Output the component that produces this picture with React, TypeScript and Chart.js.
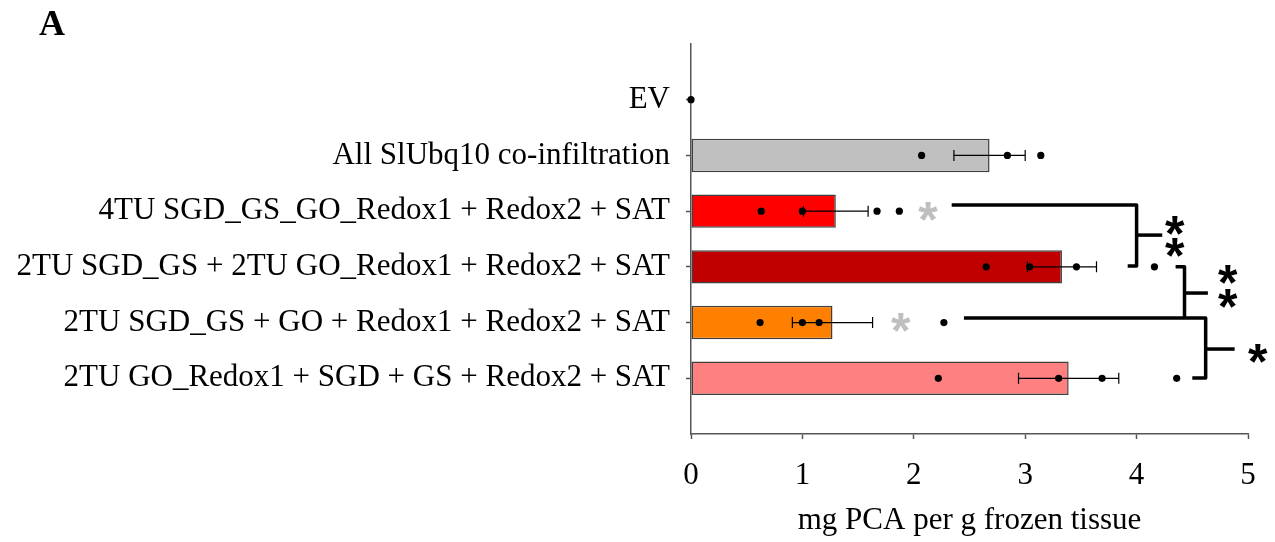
import React, { useEffect, useRef } from "react";
import { Chart, registerables } from "chart.js";

Chart.register(...registerables);

// Constructs, top to bottom
const categories = [
  "EV",
  "All SlUbq10 co-infiltration",
  "4TU SGD_GS_GO_Redox1 + Redox2 + SAT",
  "2TU SGD_GS + 2TU GO_Redox1 + Redox2 + SAT",
  "2TU SGD_GS + GO + Redox1 + Redox2 + SAT",
  "2TU GO_Redox1 + SGD + GS + Redox2 + SAT",
];

// Mean PCA content (mg per g frozen tissue) and its standard error
const means = [0, 2.68, 1.3, 3.33, 1.27, 3.39];
const errors = [0, 0.32, 0.29, 0.31, 0.36, 0.45];

// Individual biological replicates
const replicates = [
  [0],
  [2.07, 2.84, 3.14],
  [0.63, 1.0, 1.67, 1.87],
  [2.65, 3.04, 3.46, 4.16],
  [0.62, 1.0, 1.15, 2.27],
  [2.22, 3.3, 3.69, 4.36],
];

const xTickValues = [0, 1, 2, 3, 4, 5];

const barColors = ["#C0C0C0", "#C0C0C0", "#FF0000", "#C00000", "#FF8000", "#FF8080"];

const axisTitle = "mg PCA per g frozen tissue";
const panelLetter = "A";

// Significance marks, in (value, row) units; row 0 is "EV"
const grayStars = [
  { x: 2.13, row: 2 },
  { x: 1.885, row: 4 },
];
const bracketPaths: number[][][] = [
  [[2.34, 1.89], [4.0, 1.89], [4.0, 2.985], [3.92, 2.985]],
  [[4.0, 2.43], [4.23, 2.43]],
  [[4.35, 3.0], [4.43, 3.0], [4.43, 3.918]],
  [[4.43, 3.47], [4.64, 3.47]],
  [[2.45, 3.918], [4.62, 3.918], [4.62, 4.995], [4.5, 4.995]],
  [[4.62, 4.475], [4.88, 4.475]],
];
const blackStars = [
  { x: 4.345, row: 2.25 },
  { x: 4.345, row: 2.66 },
  { x: 4.82, row: 3.146 },
  { x: 4.82, row: 3.56 },
  { x: 5.09, row: 4.55 },
];

const SERIF = '"Liberation Serif", "Times New Roman", serif';
const AXIS_COLOR = "#555555";
const STAR_FONT = 'bold 50px "Liberation Sans", Arial, sans-serif';
const LABEL_SIZE = 31;

// Category axis carries a blank row above and below the constructs
const axisLabels = ["", ...categories, ""];

function drawStar(ctx: CanvasRenderingContext2D, x: number, y: number, color: string) {
  ctx.save();
  ctx.font = STAR_FONT;
  ctx.textAlign = "left";
  ctx.textBaseline = "alphabetic";
  ctx.fillStyle = color;
  const m = ctx.measureText("*");
  const dx = (m.actualBoundingBoxRight - m.actualBoundingBoxLeft) / 2;
  const dy = (m.actualBoundingBoxAscent - m.actualBoundingBoxDescent) / 2;
  ctx.fillText("*", x - dx, y + dy);
  ctx.restore();
}

const errorBarPlugin = {
  id: "errorBars",
  afterDatasetDraw(chart: any, args: any) {
    if (args.meta.type !== "bar") return;
    const { ctx, scales } = chart;
    const xs = scales.x;
    const ys = scales.y;
    ctx.save();
    ctx.strokeStyle = "#000";
    ctx.lineWidth = 1.2;
    means.forEach((m, i) => {
      const e = errors[i];
      if (!e) return;
      const y = ys.getPixelForValue(i + 1);
      const x0 = xs.getPixelForValue(m - e);
      const x1 = xs.getPixelForValue(m + e);
      ctx.beginPath();
      ctx.moveTo(x0, y);
      ctx.lineTo(x1, y);
      ctx.moveTo(x0, y - 5.5);
      ctx.lineTo(x0, y + 5.5);
      ctx.moveTo(x1, y - 5.5);
      ctx.lineTo(x1, y + 5.5);
      ctx.stroke();
    });
    ctx.restore();
  },
};

const annotationPlugin = {
  id: "significance",
  afterDraw(chart: any) {
    const { ctx, scales } = chart;
    const xs = scales.x;
    const ys = scales.y;
    const px = (v: number) => xs.getPixelForValue(v);
    const py = (r: number) => ys.getPixelForValue(r + 1);

    ctx.save();
    ctx.strokeStyle = "#000";
    ctx.lineWidth = 3.5;
    ctx.lineJoin = "round";
    ctx.lineCap = "butt";
    bracketPaths.forEach((path) => {
      ctx.beginPath();
      path.forEach(([v, r], k) => {
        if (k === 0) ctx.moveTo(px(v), py(r));
        else ctx.lineTo(px(v), py(r));
      });
      ctx.stroke();
    });
    ctx.restore();

    grayStars.forEach((s) => drawStar(ctx, px(s.x), py(s.row), "#BFBFBF"));
    blackStars.forEach((s) => drawStar(ctx, px(s.x), py(s.row), "#000"));

    ctx.save();
    ctx.font = `bold 36px ${SERIF}`;
    ctx.fillStyle = "#000";
    ctx.textAlign = "left";
    ctx.textBaseline = "alphabetic";
    ctx.fillText(panelLetter, 39, 35);
    ctx.restore();
  },
};

export default function App() {
  const canvasRef = useRef<HTMLCanvasElement | null>(null);

  useEffect(() => {
    if (!canvasRef.current) return;
    const dots: { x: number; y: string }[] = [];
    replicates.forEach((vals, i) => vals.forEach((v) => dots.push({ x: v, y: categories[i] })));

    const chart = new Chart(canvasRef.current, {
      type: "bar",
      data: {
        labels: axisLabels,
        datasets: [
          {
            type: "scatter",
            indexAxis: "x",
            data: dots,
            pointRadius: 3.6,
            pointHoverRadius: 3.6,
            pointBackgroundColor: "#000",
            pointBorderWidth: 0,
            showLine: false,
            clip: false,
          } as any,
          {
            type: "bar",
            data: [null, ...means, null],
            backgroundColor: [null, ...barColors, null],
            borderColor: "#404040",
            borderWidth: [0, ...means.map((m) => (m > 0 ? 1.5 : 0)), 0],
            borderSkipped: false,
            barPercentage: 0.6,
            categoryPercentage: 1,
          } as any,
        ],
      },
      options: {
        indexAxis: "y",
        animation: false,
        responsive: true,
        maintainAspectRatio: false,
        layout: { padding: { top: 44, right: 27, bottom: 0, left: 0 } },
        plugins: {
          legend: { display: false },
          tooltip: { enabled: false },
          title: { display: false },
        },
        scales: {
          x: {
            type: "linear",
            position: "bottom",
            min: 0,
            max: 5,
            border: { color: AXIS_COLOR, width: 1.5 },
            grid: { drawOnChartArea: false, tickLength: 5, color: AXIS_COLOR, tickWidth: 1.5 },
            ticks: { color: "#000", font: { family: SERIF, size: LABEL_SIZE }, padding: 18 },
            afterBuildTicks: (s: any) => {
              s.ticks = xTickValues.map((v) => ({ value: v }));
            },
            title: {
              display: true,
              text: axisTitle,
              color: "#000",
              font: { family: SERIF, size: LABEL_SIZE },
              padding: { top: 0, bottom: 3 },
            },
            afterFit: (s: any) => {
              s.height = 108;
            },
          },
          y: {
            type: "category",
            offset: false,
            border: { color: AXIS_COLOR, width: 1.5 },
            grid: {
              offset: false,
              drawOnChartArea: false,
              tickLength: 5,
              tickWidth: 1.5,
              color: (c: any) => (c.index === 0 || c.index === axisLabels.length - 1 ? "rgba(0,0,0,0)" : AXIS_COLOR),
            },
            ticks: { color: "#000", font: { family: SERIF, size: LABEL_SIZE }, padding: 16, autoSkip: false },
            afterFit: (s: any) => {
              s.width = 691;
            },
          },
        },
      } as any,
      plugins: [errorBarPlugin, annotationPlugin],
    });
    return () => chart.destroy();
  }, []);

  return (
    <div style={{ position: "absolute", left: 0, top: 0, width: 1275, height: 542, background: "#fff" }}>
      <canvas ref={canvasRef} />
    </div>
  );
}
